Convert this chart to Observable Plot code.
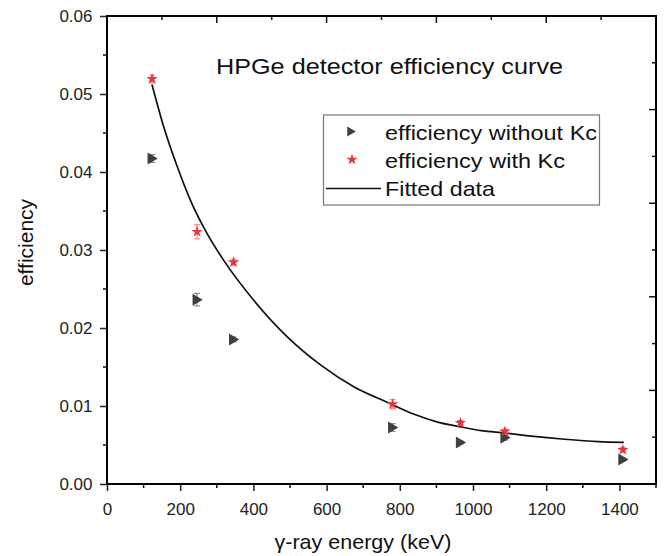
<!DOCTYPE html>
<html><head><meta charset="utf-8">
<script src="https://cdn.jsdelivr.net/npm/d3@7"></script>
<script src="https://cdn.jsdelivr.net/npm/@observablehq/plot@0.6"></script>
<style>body{margin:0;background:#fff} svg{display:block}</style>
</head><body><div id="chart"></div>
<script>
// ---- data ----
const energies = [121.8, 244.7, 344.3, 778.9, 964.1, 1085.8, 1408.0];
const effNoKc  = [0.0418, 0.0237, 0.0186, 0.0073, 0.0054, 0.0060, 0.0032];
const errNoKc  = [0.0005, 0.0008, 0.0003, 0.0005, 0.0002, 0.0003, 0.0002];
const effKc    = [0.0520, 0.0324, 0.0285, 0.0103, 0.0079, 0.0068, 0.00445];
const errKc    = [0.0005, 0.0009, 0.0004, 0.0006, 0.0003, 0.0003, 0.0003];
const fitE     = [122, 154, 191, 227, 273, 318, 400, 492, 583, 674, 766, 838, 902, 964, 1021, 1087, 1158, 1249, 1341, 1409];
const fitEff   = [0.0512, 0.0458, 0.0407, 0.0364, 0.0321, 0.0287, 0.0236, 0.0189, 0.0153, 0.0125, 0.0105, 0.0090, 0.0080, 0.0074, 0.0069, 0.0066, 0.0062, 0.0058, 0.0055, 0.0054];
const xDomain = [0, 1500];
const yDomain = [0, 0.06];
const xTicks = [0, 200, 400, 600, 800, 1000, 1200, 1400];
const yTicks = [0, 0.01, 0.02, 0.03, 0.04, 0.05, 0.06];
const xMinor = [100, 300, 500, 700, 900, 1100, 1300, 1500];
const yMinor = [0.005, 0.015, 0.025, 0.035, 0.045, 0.055];
const topMajor = [300, 600, 900, 1200];
const topMinor = [150, 450, 750, 1050, 1350];
const rightMajor = [0.012, 0.024, 0.036, 0.048];
const rightMinor = [0.006, 0.018, 0.030, 0.042, 0.054];
const titleText = "HPGe detector efficiency curve";
const legendLabels = ["efficiency without Kc", "efficiency with Kc", "Fitted data"];
const xLabel = "γ-ray energy (keV)";
const yLabel = "efficiency";

const noKc = energies.map((e, i) => ({e, v: effNoKc[i], err: errNoKc[i]}));
const withKc = energies.map((e, i) => ({e, v: effKc[i], err: errKc[i]}));
const fit = fitE.map((e, i) => ({e, v: fitEff[i]}));

const GRAY = "#3f3f3f", RED = "#e8353b";
const triRight = {draw(ctx, size) {
  const r = Math.sqrt(size / Math.PI);
  ctx.moveTo(r * 0.95, 0); ctx.lineTo(-r * 0.75, -r); ctx.lineTo(-r * 0.75, r); ctx.closePath();
}};
const cap = {draw(ctx, size) { const r = Math.sqrt(size / Math.PI); ctx.moveTo(-r, 0); ctx.lineTo(r, 0); }};

function errMarks(data, color) {
  return [
    Plot.ruleX(data, {x: "e", y1: d => d.v - d.err, y2: d => d.v + d.err, stroke: color, strokeWidth: 1.2}),
    Plot.dot(data, {x: "e", y: d => d.v - d.err, symbol: cap, r: 3, stroke: color, strokeWidth: 1.2, fill: "none"}),
    Plot.dot(data, {x: "e", y: d => d.v + d.err, symbol: cap, r: 3, stroke: color, strokeWidth: 1.2, fill: "none"})
  ];
}

const chart = Plot.plot({
  width: 664, height: 556,
  marginTop: 16, marginRight: 8, marginBottom: 72, marginLeft: 107,
  style: {fontFamily: "'Liberation Sans', Arial, sans-serif", background: "#fff", color: "#222"},
  x: {domain: xDomain},
  y: {domain: yDomain},
  marks: [
    Plot.axisX({ticks: xTicks, tickSize: 7, tickPadding: 11, fontSize: 17, label: null, tickFormat: d3.format("d"), strokeWidth: 1.5}),
    Plot.axisY({ticks: yTicks, tickSize: 7, tickPadding: 8, fontSize: 17, label: null, tickFormat: d3.format(".2f"), strokeWidth: 1.5}),
    Plot.line(fit, {x: "e", y: "v", curve: "monotone-x", stroke: "#111", strokeWidth: 1.7}),
    ...errMarks(noKc, "#8a8a8a"),
    ...errMarks(withKc, "#ee8a8a"),
    Plot.dot(noKc, {x: "e", y: "v", symbol: triRight, r: 6, fill: GRAY, stroke: "none"}),
    Plot.dot(withKc, {x: "e", y: "v", symbol: "star", r: 3.6, fill: RED, stroke: "none"})
  ]
});
document.getElementById("chart").append(chart);

// frame as a closed path, extra ticks (minor + mirrored top/right), labels, title and legend
const sx = chart.scale("x"), sy = chart.scale("y");
const svg = d3.select(chart);
const X0 = sx.apply(xDomain[0]), X1 = sx.apply(xDomain[1]), Y0 = sy.apply(yDomain[0]), Y1 = sy.apply(yDomain[1]);
svg.append("path")
  .attr("d", `M${X0},${Y1}H${X1}V${Y0}H${X0}Z`)
  .attr("fill", "none").attr("stroke", "#000").attr("stroke-width", 2);
const tg = svg.append("g").attr("stroke", "#111").attr("stroke-width", 1.5);
const ln = (x1, y1, x2, y2) => tg.append("line").attr("x1", x1).attr("y1", y1).attr("x2", x2).attr("y2", y2);
xMinor.forEach(v => ln(sx.apply(v), Y0, sx.apply(v), Y0 + 4));
yMinor.forEach(v => ln(X0, sy.apply(v), X0 - 4, sy.apply(v)));
topMajor.forEach(v => ln(sx.apply(v), Y1, sx.apply(v), Y1 + 7));
topMinor.forEach(v => ln(sx.apply(v), Y1, sx.apply(v), Y1 + 4));
rightMajor.forEach(v => ln(X1, sy.apply(v), X1 - 7, sy.apply(v)));
rightMinor.forEach(v => ln(X1, sy.apply(v), X1 - 4, sy.apply(v)));

const font = "'Liberation Sans', Arial, sans-serif";
svg.append("text").attr("x", 216).attr("y", 73.5).attr("text-anchor", "start").attr("font-family", font).attr("font-size", 22)
  .attr("fill", "#111").attr("textLength", 347).attr("lengthAdjust", "spacingAndGlyphs").text(titleText);
svg.append("text").attr("x", 363).attr("y", 549).attr("text-anchor", "middle").attr("font-family", font)
  .attr("font-size", 21).attr("fill", "#111").attr("textLength", 177).attr("lengthAdjust", "spacingAndGlyphs").text(xLabel);
svg.append("text").attr("transform", "translate(33,242.5) rotate(-90)").attr("text-anchor", "middle")
  .attr("font-family", font).attr("font-size", 21).attr("fill", "#111").text(yLabel);

// legend
const lg = svg.append("g");
lg.append("rect").attr("x", 323.5).attr("y", 115).attr("width", 276).attr("height", 90)
  .attr("fill", "#fff").attr("stroke", "#777").attr("stroke-width", 1.2);
lg.append("path").attr("transform", "translate(351,131.5)")
  .attr("d", d3.symbol(triRight, Math.PI * 25)()).attr("fill", GRAY);
lg.append("path").attr("transform", "translate(352,159.5)")
  .attr("d", d3.symbol(d3.symbolStar, Math.PI * 3.6 * 3.6)()).attr("fill", RED);
lg.append("line").attr("x1", 326).attr("x2", 381).attr("y1", 188.5).attr("y2", 188.5)
  .attr("stroke", "#111").attr("stroke-width", 1.7);
const lens = [212, 180, 110], bases = [140, 168, 196];
legendLabels.forEach((t, i) => lg.append("text").attr("x", 385).attr("y", bases[i]).attr("text-anchor", "start").attr("font-family", font)
  .attr("font-size", 21).attr("fill", "#111").attr("textLength", lens[i]).attr("lengthAdjust", "spacingAndGlyphs").text(t));
</script></body></html>
